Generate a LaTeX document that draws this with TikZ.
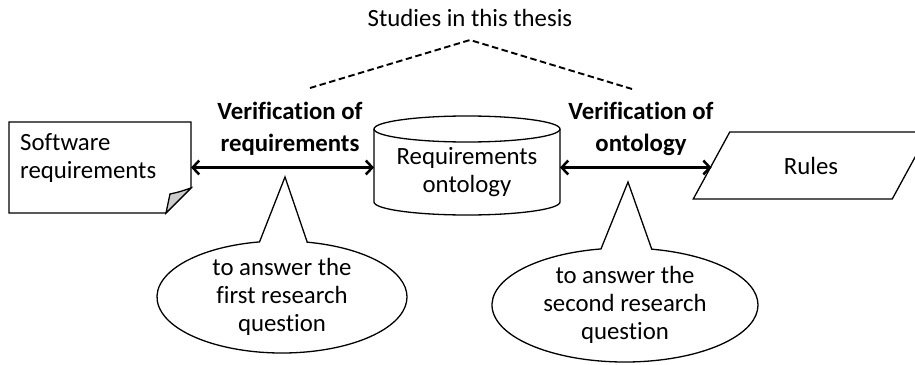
\documentclass[tikz,border=0pt]{standalone}
\usepackage{fontspec}
\setmainfont{Carlito}[Ligatures=CommonOff]
\usetikzlibrary{shapes.geometric,shapes.callouts,arrows.meta,calc}

\begin{document}
\begin{tikzpicture}[x=1pt,y=-1pt,
  txt/.style={font=\fontsize{24.8}{28}\selectfont, align=center, inner sep=0pt},
  lbl/.style={font=\fontsize{24.8}{32}\selectfont\bfseries, align=center, inner sep=0pt},
  outline/.style={draw=black, line width=1.3pt},
  frame/.style={inner sep=0pt, outer sep=0pt},
  link/.style={line width=2.5pt,
    {Straight Barb[length=6.5pt,width=14pt]}-{Straight Barb[length=6.5pt,width=14pt]}},
  guide/.style={line width=1.9pt, dash pattern=on 6.5pt off 3.5pt},
  bubble/.style={ellipse callout, outline, fill=white, txt, callout pointer arc=22}]
\useasboundingbox (0,0) rectangle (915,364);

% software requirements document with folded corner
\node[frame, minimum width=182pt, minimum height=91pt] (sw) at (100,167.5) {};
\draw[outline, fill=white] (sw.north west) -- (sw.north east)
  -- ([yshift=25pt]sw.south east) -- ([xshift=-25pt]sw.south east)
  -- (sw.south west) -- cycle;
\draw[outline, fill=black!20] ([yshift=25pt]sw.south east)
  .. controls ([xshift=-12pt,yshift=21pt]sw.south east) .. ([xshift=-21pt,yshift=19pt]sw.south east)
  -- ([xshift=-25pt]sw.south east) -- cycle;
\node[txt, align=left, anchor=west] (swtext) at (20,158) {Software\\requirements};

% requirements ontology database
\node[frame, minimum width=186pt, minimum height=100pt] (db) at (467,165) {};
\draw[outline, fill=white] (374,129) -- (374,202)
  arc[start angle=180, end angle=0, x radius=93, y radius=13] -- (560,129);
\draw[outline] (467,129) ellipse [x radius=93, y radius=13];
\node[txt] (dbtext) at (467,172) {Requirements\\ontology};

% rules
\node[trapezium, trapezium left angle=55, trapezium right angle=125,
  trapezium stretches=true, minimum width=236pt, minimum height=67pt,
  outline, frame, txt] (rules) at (811,165.5) {Rules};

% verification links
\draw[link] (sw.east) -- (db.west |- sw.east);
\draw[link] (db.east |- sw.east) -- (rules.west |- sw.east);

% labels
\node[lbl] (v1) at (290,129) {Verification of\\requirements};
\node[lbl] (v2) at (641,129) {Verification of\\ontology};

% studies in this thesis
\node[txt] (st) at (470,18) {Studies in this thesis};
\coordinate (apex) at (470,40);
\coordinate (dl) at (310,88);
\coordinate (dr) at (632,89);
\draw[guide] (dl) -- (apex) -- (dr);

% callouts
\node[bubble, minimum width=250pt, minimum height=112pt,
  callout absolute pointer={(285,177)}] (q1) at (282,297)
  {to answer the\\first research\\question};
\node[bubble, minimum width=266pt, minimum height=114pt,
  callout absolute pointer={(628,182)}] (q2) at (625,305)
  {to answer the\\second research\\question};
\end{tikzpicture}
\end{document}
